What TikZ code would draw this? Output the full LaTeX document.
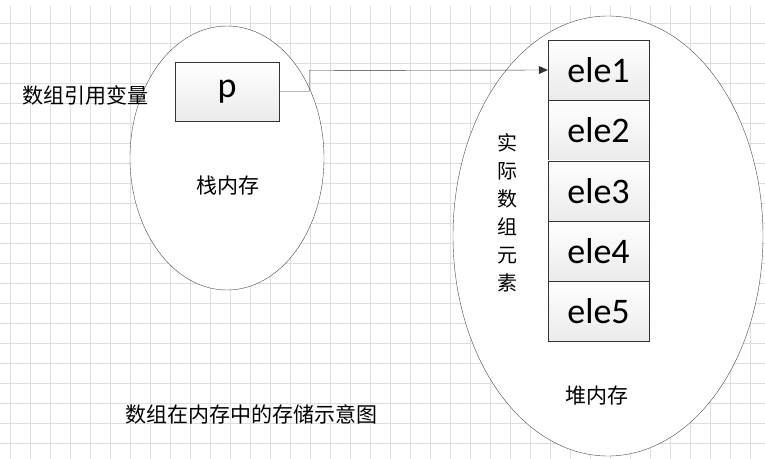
\documentclass[tikz,border=0pt]{standalone}
\usepackage{fontspec}
\setmainfont{Carlito}
\newfontfamily\cjk{Noto Sans CJK SC}
\usetikzlibrary{positioning,arrows.meta}

\tikzset{
  memory/.style={draw=black!70, fill=white},
  cell/.style={draw=black!80, top color=white, bottom color=black!8,
    minimum width=101pt, minimum height=60pt, inner sep=0pt, font=\fontsize{36}{36}\selectfont},
  label/.style={font=\cjk\fontsize{21}{24}\selectfont}
}

\begin{document}
\begin{tikzpicture}[x=1pt, y=-1pt]
  \useasboundingbox (0,0) rectangle (765,458);
  % background grid
  \draw[black!13, step=20pt, shift={(10pt,-3pt)}] (-10,3) grid (765,461);

  % stack and heap
  \draw[memory] (227,158) ellipse [x radius=97, y radius=132];
  \draw[memory] (608,236) ellipse [x radius=155, y radius=220];

  % pointer variable
  \node[cell, minimum width=104pt, minimum height=59pt] (p) at (227,91.5) {p};
  \node[label] (var) at (85,95) {数组引用变量};
  \node[label] (stack) at (228,186) {栈内存};

  % array elements
  \node[cell] (e1) at (598.5,70) {ele1};
  \foreach \i [count=\j from 1] in {2,...,5}
    \node[cell, below=0pt of e\j] (e\i) {ele\i};

  \node[label, align=center, font=\cjk\fontsize{20}{28}\selectfont] (real) at (507,213) {实\\际\\数\\组\\元\\素};
  \node[label] (heap) at (597,396) {堆内存};
  \node[label] (caption) at (251,414) {数组在内存中的存储示意图};

  % reference
  \draw[-{Triangle[length=9pt,width=8pt]}, black!80] (p.east) -| ++(30,-21) coordinate (bend) -- (e1.west);
\end{tikzpicture}
\end{document}
